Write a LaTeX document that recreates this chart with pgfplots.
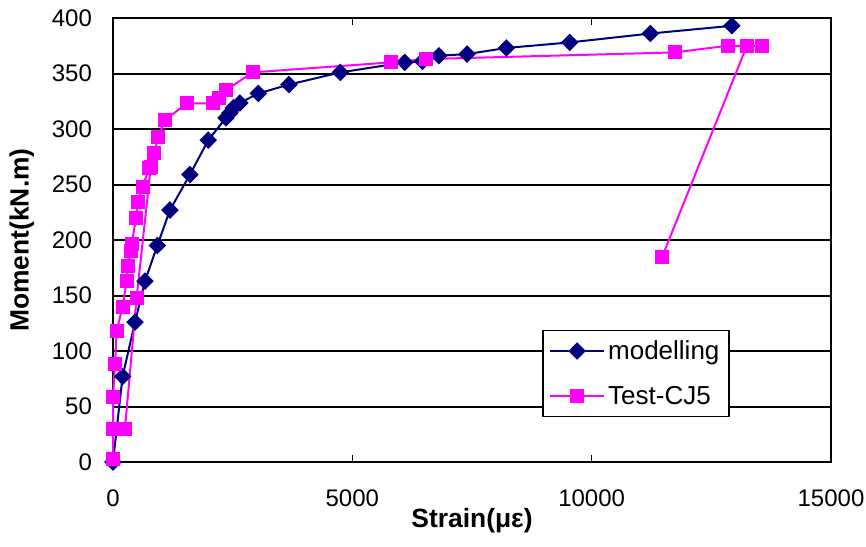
\documentclass[border=0pt]{standalone}
\usepackage{pgfplots}
\pgfplotsset{compat=1.18}
\usepackage{fontspec}
\setmainfont{Liberation Sans}
\definecolor{navy}{RGB}{0,0,128}
\definecolor{magenta}{RGB}{255,0,255}
\begin{document}
\begin{tikzpicture}
\path[use as bounding box] (-56.5pt,-42pt) rectangle (376.5pt,231pt);
\begin{axis}[
  at={(0pt,0pt)}, anchor=south west,
  scale only axis, width=359pt, height=222pt,
  xmin=0, xmax=15000, ymin=0, ymax=400,
  xtick={0,5000,10000,15000},
  ytick={0,50,...,400},
  scaled x ticks=false,
  /pgf/number format/1000 sep={},
  /pgf/number format/assume math mode=true,
  tick align=inside,
  major tick length=3.5pt,
  ymajorgrids,
  major grid style={black, line width=1pt},
  axis line style={black, line width=1pt},
  every tick/.style={black, line width=0.8pt},
  tick label style={font=\fontsize{12}{14}\selectfont},
  xticklabel style={yshift=-10.5pt},
  yticklabel style={xshift=-7pt},
  xlabel={\textbf{Strain(με)}},
  ylabel={\textbf{Moment(kN.m)}},
  label style={font=\fontsize{13.2}{15}\selectfont},
  xlabel style={at={(axis description cs:0.5,-0.133)}, anchor=center},
  ylabel style={at={(axis description cs:-0.127,0.5)}, anchor=center},
  clip=false,
  legend cell align=left,
  legend style={at={(0.5975,0.2973)}, anchor=north west,
    draw=black, line width=0.75pt, fill=white,
    font=\fontsize{13}{15}\selectfont,
    inner xsep=3.2pt, inner ysep=2.4pt, row sep=7pt,
    nodes={inner sep=1.5pt, text height=10.5pt, text depth=2pt}},
  legend image code/.code={\draw[mark repeat=2, mark phase=2, #1] plot coordinates {(0pt,0pt) (13.5pt,0pt) (27pt,0pt)};},
]
\addplot[navy, line width=1pt, mark=square*, mark size=2.6pt, mark options={rotate=45, solid, fill=navy, draw=navy}] coordinates {
(0,0) (200,77) (460,126) (668,163) (926,195) (1190,227) (1608,259)
(1990,290) (2360,310) (2443,314.5) (2513,319) (2651,323.5) (3035,332)
(3675,340) (4750,351) (6096,360) (6465,361) (6806,366) (7397,367.5)
(8218,373) (9541,378) (11225,386) (12930,393)
};
\addlegendentry{modelling}
\addplot[magenta, line width=1pt, mark=square*, mark size=3pt, mark options={solid, fill=magenta, draw=magenta}] coordinates {
(0,3) (0,30) (0,59) (42,88) (77,118) (200,140) (285,163) (320,177)
(370,190) (390,196) (480,220) (528,234) (620,248) (758,265) (862,278)
(946,293) (1086,308) (1538,323) (2080,323) (2220,328) (2360,335)
(2916,351) (5800,360) (6545,363) (11733,369) (12846,375) (13562,375)
(13242,375) (11474,185)
};
\addlegendentry{Test-CJ5}
\addplot[magenta, line width=1pt, mark=square*, mark size=3pt, mark options={solid, fill=magenta, draw=magenta}, forget plot] coordinates {
(250,30) (493,148) (790,266)
};
\end{axis}
\end{tikzpicture}
\end{document}
